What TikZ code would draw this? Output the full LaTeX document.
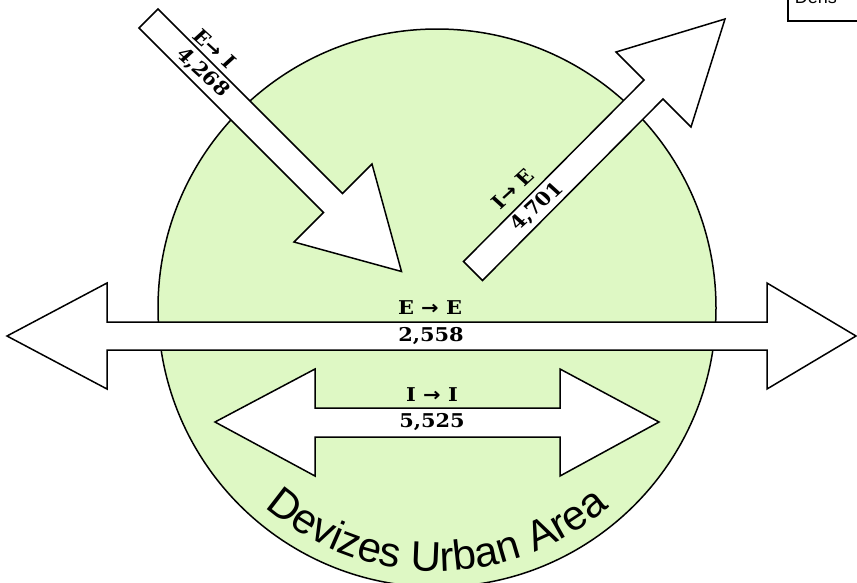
\documentclass[tikz,border=0pt]{standalone}
\usepackage{fontspec}
\usetikzlibrary{decorations.text}
\newfontfamily\lblfamily{DejaVu Serif}
\newfontfamily\arrfamily{DejaVu Sans}
\newfontfamily\areafamily{Liberation Sans}
\definecolor{areagreen}{RGB}{222,248,196}
\newcommand{\rarr}{{\arrfamily\bfseries →}}
\begin{document}
\begin{tikzpicture}[x=1pt,y=-1pt, line width=1.5pt, line join=miter,
  arrowbox/.style={draw=black, fill=white},
  lbl/.style={font=\lblfamily\bfseries\fontsize{19}{19}\selectfont, inner sep=0pt, xscale=1.1}]
\useasboundingbox (0,0) rectangle (857,582);
\clip (0,0) rectangle (857,582);
\fill[white] (0,0) rectangle (857,582);
% urban area
\draw[fill=areagreen] (437,308) circle[radius=279];
\path[decorate, decoration={text along path, text align=center,
  text={|\areafamily\fontsize{42}{42}\selectfont|Devizes Urban Area}}]
  (437,308) ++(132:263) arc[start angle=132, end angle=48, radius=263];
% E -> I
\draw[arrowbox] (158,9) -- (342.5,193.5) -- (372,164) -- (401.5,271.5) -- (294,242) -- (323.5,212.5) -- (139,28) -- cycle;
% I -> E
\draw[arrowbox] (463.5,261.5) -- (644,80) -- (616,52) -- (725,19) -- (691,127) -- (663,99) -- (482.5,280.5) -- cycle;
% E -> E
\draw[arrowbox] (7,336) -- (107,283) -- (107,322) -- (767,322) -- (767,283) -- (856,336) -- (767,389) -- (767,350) -- (107,350) -- (107,389) -- cycle;
% I -> I
\draw[arrowbox] (215,422) -- (315,369) -- (315,408) -- (560,408) -- (560,369) -- (659,422) -- (560,476) -- (560,437) -- (315,437) -- (315,476) -- cycle;
% labels
\node[lbl] (lblEE) at (430,308) {E \rarr\ E};
\node[lbl] (numEE) at (431,336) {2,558};
\node[lbl] (lblII) at (432,395) {I \rarr\ I};
\node[lbl] (numII) at (432,422) {5,525};
\node[lbl, rotate=-45] (lblEI) at (214.5,48.5) {E\rarr\ I};
\node[lbl, rotate=-45] (numEI) at (202.5,72.5) {4,268};
\node[lbl, rotate=45] (lblIE) at (513,189) {I\rarr\ E};
\node[lbl, rotate=45] (numIE) at (537,207) {4,701};
% top-right box
\draw[fill=white] (788,-10) rectangle (870,21);
\node[anchor=base west, inner sep=0pt, font=\areafamily\fontsize{18}{18}\selectfont] (boxtext) at (794,3) {Dens};
\end{tikzpicture}
\end{document}
